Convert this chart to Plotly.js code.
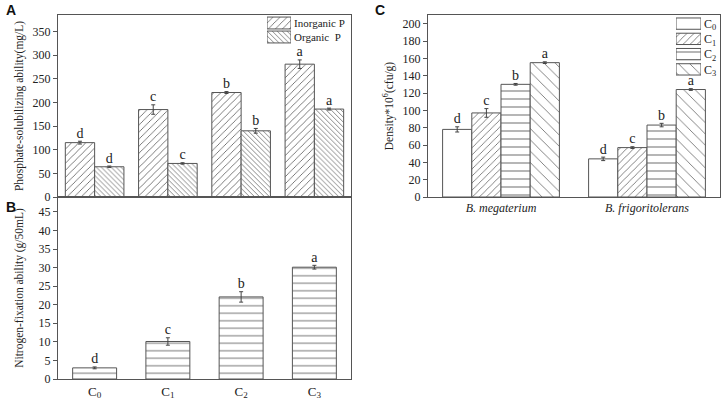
<!DOCTYPE html>
<html>
<head>
<meta charset="utf-8">
<script src="https://cdn.plot.ly/plotly-3.0.1.min.js"></script>
<style>html,body{margin:0;padding:0;background:#fff;}#chart{width:722px;height:401px;}</style>
</head>
<body>
<div id="chart"></div>
<script>
// ---- Data ----
const treatments = ["C<sub>0</sub>", "C<sub>1</sub>", "C<sub>2</sub>", "C<sub>3</sub>"];

// Panel A: phosphate-solubilizing ability (mg/L)
const seriesA = ["Inorganic P", "Organic  P"];
const inorganicP = [115, 185, 221, 281];
const inorganicErr = [3, 10, 2, 9];
const inorganicLetters = ["d", "c", "b", "a"];
const organicP = [64, 71, 140, 186];
const organicErr = [1.5, 1.5, 5, 2];
const organicLetters = ["d", "c", "b", "a"];

// Panel B: nitrogen-fixation ability (g/50mL)
const nitrogenFix = [3, 10.1, 22.1, 30.1];
const nitrogenErr = [0.25, 1.0, 1.4, 0.5];
const nitrogenLetters = ["d", "c", "b", "a"];

// Panel C: density *10^6 (cfu/g)
const strains = ["<i>B. megaterium</i>", "<i>B. frigoritolerans</i>"];
const seriesC = ["C<sub>0</sub>", "C<sub>1</sub>", "C<sub>2</sub>", "C<sub>3</sub>"];
const densityC0 = [78, 44];
const densityC0Err = [3, 2];
const densityC1 = [97, 57];
const densityC1Err = [5, 1];
const densityC2 = [130, 83];
const densityC2Err = [1, 2];
const densityC3 = [155, 124];
const densityC3Err = [1, 1];
const densityLetters = [["d", "d"], ["c", "c"], ["b", "b"], ["a", "a"]];

// ---- Styles ----
const FONT = "Liberation Serif, Times New Roman, serif";
const LINE = "#555";
const FG = "#666";

function pat(shape, size, solidity) {
  if (!shape) return {shape: ""};
  return {shape: shape, size: size, solidity: solidity, fgcolor: FG, bgcolor: "white", fillmode: "replace"};
}
const PAT_INORG = pat("/", 5, 0.17);
const PAT_ORG = pat("\\", 3.5, 0.22);
const PAT_B = pat("-", 7.5, 0.12);
const PAT_C = [pat("", 0, 0), pat("/", 5, 0.16), pat("-", 8, 0.12), pat("\\", 8, 0.1)];

function bar(x, y, err, name, xa, ya, pattern, group, width) {
  const t = {
    type: "bar", x: x, y: y, name: name, xaxis: xa, yaxis: ya,
    offsetgroup: group, showlegend: false,
    marker: {color: "white", line: {color: LINE, width: 1}, pattern: pattern},
    error_y: {type: "data", array: err, visible: true, color: "#444", thickness: 1, width: 2},
    hoverinfo: "skip"
  };
  if (width) t.width = width;
  return t;
}
function letters(x, y, err, txt, xa, ya, group) {
  return {
    type: "scatter", mode: "text", x: x, y: y.map((v, i) => v + err[i]), text: txt,
    textposition: "top center", textfont: {family: FONT, size: 14, color: "#222"},
    xaxis: xa, yaxis: ya, offsetgroup: group, showlegend: false, hoverinfo: "skip", cliponaxis: false
  };
}
// legend swatch drawn as a full-length horizontal bar on a small helper axis
function swatch(label, xa, ya, pattern, width) {
  return {
    type: "bar", orientation: "h", x: [1], y: [label], xaxis: xa, yaxis: ya,
    offsetgroup: "leg", width: width, showlegend: false, hoverinfo: "skip",
    marker: {color: "white", line: {color: LINE, width: 1}, pattern: pattern}
  };
}

const data = [
  // Panel A
  bar(treatments, inorganicP, inorganicErr, seriesA[0], "x", "y", PAT_INORG, "inorg"),
  bar(treatments, organicP, organicErr, seriesA[1], "x", "y", PAT_ORG, "org"),
  letters(treatments, inorganicP, inorganicErr, inorganicLetters, "x", "y", "inorg"),
  letters(treatments, organicP, organicErr, organicLetters, "x", "y", "org"),
  // Panel B
  bar(treatments, nitrogenFix, nitrogenErr, "N", "x2", "y2", PAT_B, "n", 0.6),
  letters(treatments, nitrogenFix, nitrogenErr, nitrogenLetters, "x2", "y2", "n"),
  // Panel C
  bar(strains, densityC0, densityC0Err, seriesC[0], "x3", "y3", PAT_C[0], "c0"),
  bar(strains, densityC1, densityC1Err, seriesC[1], "x3", "y3", PAT_C[1], "c1"),
  bar(strains, densityC2, densityC2Err, seriesC[2], "x3", "y3", PAT_C[2], "c2"),
  bar(strains, densityC3, densityC3Err, seriesC[3], "x3", "y3", PAT_C[3], "c3"),
  letters(strains, densityC0, densityC0Err, densityLetters[0], "x3", "y3", "c0"),
  letters(strains, densityC1, densityC1Err, densityLetters[1], "x3", "y3", "c1"),
  letters(strains, densityC2, densityC2Err, densityLetters[2], "x3", "y3", "c2"),
  letters(strains, densityC3, densityC3Err, densityLetters[3], "x3", "y3", "c3"),
  // Legends
  swatch(seriesA[0], "x4", "y4", PAT_INORG, 0.85),
  swatch(seriesA[1], "x4", "y4", PAT_ORG, 0.85),
  swatch(seriesC[0], "x5", "y5", PAT_C[0], 0.74),
  swatch(seriesC[1], "x5", "y5", PAT_C[1], 0.74),
  swatch(seriesC[2], "x5", "y5", PAT_C[2], 0.74),
  swatch(seriesC[3], "x5", "y5", PAT_C[3], 0.74)
];

const W = 722, H = 401;
const axBase = {
  showline: true, linecolor: LINE, linewidth: 1, mirror: true, showgrid: false, zeroline: false,
  tickfont: {family: FONT, size: 12, color: "#222"}, ticks: "outside", ticklen: 4, tickcolor: LINE
};
const legX = {visible: false, range: [0, 1], fixedrange: true};
const legY = {type: "category", side: "right", showline: false, showgrid: false, zeroline: false, ticks: "",
  tickmode: "array", ticklabelstandoff: 2,
  tickfont: {family: FONT, size: 12, color: "#222"}, fixedrange: true};
const yA = [1 - 197 / H, 1 - 15 / H];
const yB = [1 - 379 / H, 1 - 197 / H];
const xAB = [58 / W, 351 / W];
const xC = [428 / W, 720 / W];

const layout = {
  width: W, height: H,
  margin: {l: 0, r: 0, t: 0, b: 0},
  paper_bgcolor: "white", plot_bgcolor: "white",
  font: {family: FONT, color: "#222"},
  barmode: "group", bargap: 0.2, bargroupgap: 0,
  scattermode: "group", scattergap: 0.2,
  showlegend: false,
  xaxis: Object.assign({}, axBase, {domain: xAB, anchor: "y", type: "category", range: [-0.5, 3.5], showticklabels: false, ticks: ""}),
  yaxis: Object.assign({}, axBase, {domain: yA, anchor: "x", range: [0, 385], dtick: 50,
    title: {text: "Phosphate-solubilizing ability(mg/L)", font: {family: FONT, size: 11.5, color: "#222"}, standoff: 6}}),
  xaxis2: Object.assign({}, axBase, {domain: xAB, anchor: "y2", type: "category", range: [-0.5, 3.5], ticks: "", tickfont: {family: FONT, size: 13, color: "#222"}}),
  yaxis2: Object.assign({}, axBase, {domain: yB, anchor: "x2", range: [0, 49], dtick: 5,
    title: {text: "Nitrogen-fixation ability (g/50mL)", font: {family: FONT, size: 11.5, color: "#222"}, standoff: 12}}),
  xaxis3: Object.assign({}, axBase, {domain: xC, anchor: "y3", type: "category", range: [-0.5, 1.5], ticks: "", tickfont: {family: FONT, size: 12, color: "#222"}}),
  yaxis3: Object.assign({}, axBase, {domain: yA, anchor: "x3", range: [0, 210], dtick: 20,
    title: {text: "Density*10<sup>6</sup>(cfu/g)", font: {family: FONT, size: 11.5, color: "#222"}, standoff: 6}}),
  // legend helper axes
  xaxis4: Object.assign({}, legX, {domain: [267 / W, 291 / W], anchor: "y4"}),
  yaxis4: Object.assign({}, legY, {domain: [1 - 44 / H, 1 - 16 / H], anchor: "x4", range: [1.5, -0.5],
    tickvals: seriesA, ticktext: seriesA, tickfont: {family: FONT, size: 11, color: "#222"}}),
  xaxis5: Object.assign({}, legX, {domain: [676 / W, 701 / W], anchor: "y5"}),
  yaxis5: Object.assign({}, legY, {domain: [1 - 77 / H, 1 - 16 / H], anchor: "x5", range: [3.5, -0.5],
    tickvals: seriesC, ticktext: seriesC}),
  annotations: [
    {text: "<b>A</b>", x: 4 / W, y: 1 - 10 / H, xref: "paper", yref: "paper", showarrow: false, xanchor: "left", yanchor: "middle", font: {family: "Liberation Sans, Arial, sans-serif", size: 14, color: "#111"}},
    {text: "<b>B</b>", x: 4 / W, y: 1 - 207 / H, xref: "paper", yref: "paper", showarrow: false, xanchor: "left", yanchor: "middle", font: {family: "Liberation Sans, Arial, sans-serif", size: 14, color: "#111"}},
    {text: "<b>C</b>", x: 373 / W, y: 1 - 10 / H, xref: "paper", yref: "paper", showarrow: false, xanchor: "left", yanchor: "middle", font: {family: "Liberation Sans, Arial, sans-serif", size: 14, color: "#111"}}
  ]
};

Plotly.newPlot("chart", data, layout, {staticPlot: true, displayModeBar: false});
</script>
</body>
</html>
